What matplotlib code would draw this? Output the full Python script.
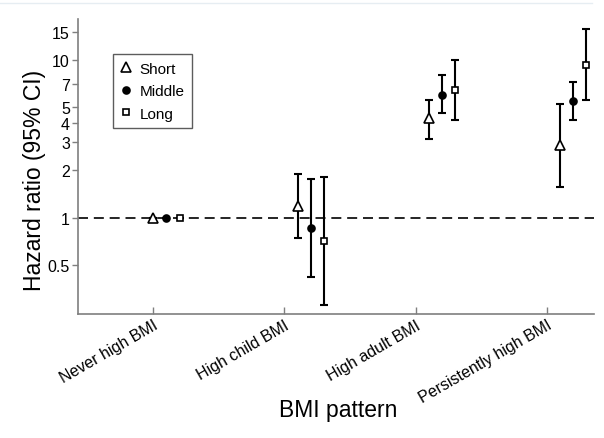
import matplotlib
matplotlib.use("Agg")
import matplotlib.pyplot as plt
from matplotlib.lines import Line2D

plt.rcParams['font.family'] = ['Liberation Sans', 'DejaVu Sans']

# BMI patterns on the x axis
patterns = ["Never high BMI", "High child BMI", "High adult BMI", "Persistently high BMI"]

# hazard ratios and 95% CI per follow-up group
short_hr = [1.0, 1.19, 4.27, 2.89]
short_lo = [1.0, 0.74, 3.16, 1.56]
short_hi = [1.0, 1.89, 5.60, 5.26]

middle_hr = [1.0, 0.86, 6.03, 5.52]
middle_lo = [1.0, 0.42, 4.59, 4.18]
middle_hi = [1.0, 1.76, 8.03, 7.22]

long_hr = [1.0, 0.71, 6.45, 9.34]
long_lo = [1.0, 0.28, 4.18, 5.60]
long_hi = [1.0, 1.80, 10.0, 15.7]

yticks = [0.5, 1, 2, 3, 4, 5, 7, 10, 15]

fig = plt.figure(figsize=(6.04, 4.39), dpi=100)
ax = fig.add_axes([0.1296, 0.2818, 0.8544, 0.6726])

base = [1, 2, 3, 4]
# reference group sits on the tick, the others are shifted right
shift0 = [0, 0.1, 0.1, 0.1]

def draw(hr, lo, hi, off, marker, face, ms, label):
    xs = [b + s + off for b, s in zip(base, shift0)]
    err = [[h - l for h, l in zip(hr, lo)], [u - h for h, u in zip(hr, hi)]]
    ax.errorbar(xs, hr, yerr=err, fmt='none', ecolor='black', elinewidth=1.5,
                capsize=3, capthick=1.5, zorder=3)
    ax.plot(xs, hr, linestyle='none', marker=marker, mfc=face, mec='black',
            mew=1.2, ms=ms, zorder=4, label=label)

ax.axhline(1, color='black', lw=1.2, dashes=(6, 3.5), zorder=1)

draw(short_hr, short_lo, short_hi, 0.0, '^', 'white', 7, 'Short')
draw(middle_hr, middle_lo, middle_hi, 0.1, 'o', 'black', 5, 'Middle')
draw(long_hr, long_lo, long_hi, 0.2, 's', 'white', 4.5, 'Long')

ax.set_yscale('log')
ax.set_ylim(0.244, 18.2)
ax.set_xlim(0.428, 4.363)
ax.set_yticks(yticks)
ax.set_yticklabels([str(t) for t in yticks])
ax.minorticks_off()
ax.set_xticks(base)
ax.set_xticklabels(patterns, rotation=30, ha='right', rotation_mode='anchor')

for s in ['top', 'right']:
    ax.spines[s].set_visible(False)
for s in ['left', 'bottom']:
    ax.spines[s].set_color('#7f7f7f')
    ax.spines[s].set_linewidth(1.2)

ax.tick_params(axis='y', direction='out', length=4, width=1, color='#7f7f7f',
               labelsize=11.5, pad=2)
ax.tick_params(axis='x', direction='in', length=5, width=1, color='#7f7f7f',
               labelsize=11.5, pad=2)

leg = ax.legend(loc='upper left', bbox_to_anchor=(0.068, 0.881), borderaxespad=0,
                fontsize=11, frameon=True, fancybox=False, handlelength=0.7,
                handletextpad=0.5, borderpad=0.5, labelspacing=0.55)
leg.get_frame().set_edgecolor('#333333')
leg.get_frame().set_linewidth(1.0)

fig.text(35 / 604, 1 - 180 / 439, "Hazard ratio (95% CI)", rotation=90,
         ha='center', va='center', fontsize=16.5)
fig.text(338 / 604, 1 - 411 / 439, "BMI pattern", ha='center', va='center',
         fontsize=16.5)

# faint rule along the top edge
fig.add_artist(Line2D([0, 0.98], [1 - 4 / 439, 1 - 4 / 439], color='#e6edf2', lw=1))

fig.savefig("out.png", dpi=100)
